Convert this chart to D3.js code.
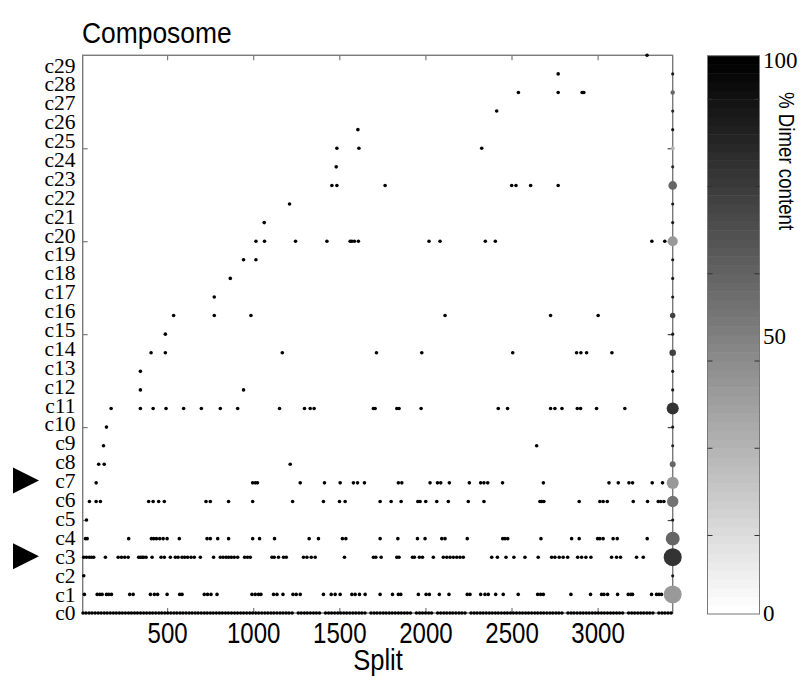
<!DOCTYPE html>
<html><head><meta charset="utf-8">
<script src="https://cdn.jsdelivr.net/npm/d3@7"></script>
<style>body{margin:0;background:#fff}svg{display:block}</style>
</head><body><div id="chart"></div>
<script>
// ---------- DATA ----------
const categories = ["c0","c1","c2","c3","c4","c5","c6","c7","c8","c9","c10","c11","c12","c13","c14","c15","c16","c17","c18","c19","c20","c21","c22","c23","c24","c25","c26","c27","c28","c29"];
const xTicks = [500, 1000, 1500, 2000, 2500, 3000];
const yTicks = [5, 10, 15, 20, 25];
const colorbarLabels = [0, 50, 100];
const arrowRows = ["c3", "c7"];

const c0Split = [12,29,47,64,82,100,117,135,152,170,188,205,223,240,258,276,293,311,328,346,364,381,399,416,434,452,469,487,504,522,540,557,575,592,610,628,645,663,680,698,716,733,751,768,786,804,821,839,856,874,892,909,927,944,962,980,997,1015,1032,1050,1068,1085,1103,1120,1138,1156,1173,1191,1208,1226,1262,1279,1297,1314,1332,1350,1367,1385,1420,1438,1455,1473,1491,1508,1526,1543,1561,1579,1596,1614,1631,1649,1684,1702,1719,1737,1755,1772,1790,1807,1825,1843,1860,1878,1895,1913,1948,1966,1983,2001,2019,2036,2071,2089,2107,2124,2142,2159,2177,2195,2212,2230,2265,2283,2300,2318,2335,2353,2371,2388,2406,2423,2441,2459,2476,2494,2511,2529,2547,2564,2582,2599,2617,2635,2652,2670,2687,2705,2723,2740,2758,2775,2793,2828,2846,2863,2881,2899,2916,2934,2951,2969,2987,3004,3022,3039,3057,3075,3092,3110,3127,3145,3180,3198,3215,3233,3251,3268,3286,3303,3321,3356,3374,3391,3409,3427];
const c1Split = [20,94,109,123,148,161,177,283,303,403,426,445,500,573,587,716,735,755,790,993,1012,1031,1045,1118,1138,1173,1231,1250,1273,1408,1453,1476,1505,1573,1592,1617,1650,1737,1809,1843,1857,1959,2004,2023,2081,2137,2243,2259,2321,2346,2365,2408,2452,2539,2652,2669,2685,2845,2959,3023,3037,3058,3116,3178,3193,3203,3313,3342,3356,3371];
const c2Split = [16];
const c3Split = [16,32,48,61,74,142,216,235,254,274,335,345,355,364,378,413,465,484,519,548,564,587,602,619,639,658,693,770,809,825,842,857,873,890,910,950,967,983,1109,1122,1147,1176,1192,1292,1312,1337,1360,1530,1698,1712,1743,1834,1847,1925,1936,1965,1983,2046,2104,2124,2143,2162,2182,2201,2220,2385,2418,2468,2514,2578,2655,2733,2752,2777,2800,2826,2884,2907,2932,2961,3081,3110,3133,3226,3265];
const c4Split = [26,36,277,409,422,438,457,477,500,571,732,751,794,857,997,1037,1124,1325,1379,1518,1538,1737,1840,1954,1998,2095,2114,2243,2449,2462,2478,2671,2849,2893,3000,3013,3032,3090,3114,3288];
const c5Split = [32];
const c6Split = [49,88,113,393,419,451,484,726,751,857,997,1229,1408,1501,1534,1737,1801,1859,1956,1969,2002,2066,2133,2249,2340,2665,2675,2688,2893,3013,3032,3056,3207,3290,3352,3367,3385];
const c7Split = [88,997,1012,1025,1273,1414,1505,1582,1606,1646,1843,1863,2027,2070,2089,2139,2255,2321,2340,2362,2448,2685,3066,3120,3182,3203,3317,3377];
const c8Split = [103,135,1215];
const c9Split = [131,2646];
const c10Split = [148];
const c11Split = [175,345,419,494,596,699,809,910,1153,1298,1331,1354,1698,1708,1834,1847,1975,2423,2477,2727,2752,2793,2882,2901,2994,3158];
const c12Split = [345,944];
const c13Split = [345];
const c14Split = [407,490,1169,1716,1979,2507,2878,2903,2936,3083];
const c15Split = [490];
const c16Split = [538,774,987,2114,2727,3003];
const c17Split = [774];
const c18Split = [867];
const c19Split = [944,1016];
const c20Split = [1016,1066,1246,1428,1563,1573,1588,1611,2021,2085,2348,2406,3315,3390];
const c21Split = [1064];
const c22Split = [1211];
const c23Split = [1457,1486,1766,2501,2526,2611,2771];
const c24Split = [1482];
const c25Split = [1486,1614,2327];
const c26Split = [1608];
const c27Split = [2414];
const c28Split = [2540,2771,2910,2920];
const c29Split = [2771];
const c30Split = [3287];

// summary column at the right edge (per category c0..c29)
const abundance = [0,20,0.6,20,12,0.6,8,9,2.2,0.6,0.6,9,0.6,0.6,2.7,0.6,1.8,0.6,0.6,0.6,6.2,0.6,0.6,4.6,0.6,1,0.6,0.6,1.2,0.6];
const dimerPct  = [90,40,90,80,60,90,55,40,60,85,90,80,90,90,75,90,75,90,90,90,40,90,90,60,85,30,90,85,60,90];

const rowSplits = [c0Split,c1Split,c2Split,c3Split,c4Split,c5Split,c6Split,c7Split,c8Split,c9Split,c10Split,c11Split,c12Split,c13Split,c14Split,c15Split,c16Split,c17Split,c18Split,c19Split,c20Split,c21Split,c22Split,c23Split,c24Split,c25Split,c26Split,c27Split,c28Split,c29Split,c30Split];

// ---------- CHART ----------
const W = 808, H = 684;
const svg = d3.select("#chart").append("svg").attr("width", W).attr("height", H);
const SANS = "'Liberation Sans', Arial, sans-serif";
const SERIF = "'Liberation Serif', 'Times New Roman', serif";

const x = d3.scaleLinear().domain([10, 3436]).range([82.7, 672.7]);
const y = d3.scaleLinear().domain([0, 30]).range([613, 55.3]);
const yLab = d3.scaleLinear().domain([0, 29]).range([613.3, 65.5]);
const r = d3.scaleSqrt().domain([0, 20]).range([0, 9]);
const gray = p => { const v = Math.round(255 * (1 - p / 100)); return `rgb(${v},${v},${v})`; };

const axisColor = "#7a7a7a";

// title
svg.append("text").attr("x", 82).attr("y", 43)
  .attr("font-family", SANS).attr("font-size", 30)
  .attr("transform", "translate(82,0) scale(0.88,1) translate(-82,0)")
  .text("Composome");

// frame
svg.append("rect").attr("x", x.range()[0]).attr("y", y.range()[1])
  .attr("width", x.range()[1] - x.range()[0]).attr("height", y.range()[0] - y.range()[1])
  .attr("fill", "none").attr("stroke", axisColor).attr("stroke-width", 1.4);

// x axis bottom (inward ticks)
const gxb = svg.append("g").attr("transform", `translate(0,${y(0)})`)
  .call(d3.axisBottom(x).tickValues(xTicks).tickFormat(d3.format("d")).tickSizeInner(-5).tickSizeOuter(0).tickPadding(9));
gxb.select(".domain").remove();
gxb.selectAll("line").attr("stroke", axisColor).attr("stroke-width", 1.2);
gxb.selectAll("text").attr("font-family", SANS).attr("font-size", 29).attr("fill", "#000")
  .attr("transform", "scale(0.83,1)");
// x axis top
const gxt = svg.append("g").attr("transform", `translate(0,${y(30)})`)
  .call(d3.axisTop(x).tickValues(xTicks).tickSizeInner(-5).tickSizeOuter(0).tickFormat(""));
gxt.select(".domain").remove();
gxt.selectAll("line").attr("stroke", axisColor).attr("stroke-width", 1.2);

// y axis ticks left and right
const gyl = svg.append("g").attr("transform", `translate(${x.range()[0]},0)`)
  .call(d3.axisLeft(y).tickValues(yTicks).tickSizeInner(-5).tickSizeOuter(0).tickFormat(""));
gyl.select(".domain").remove();
gyl.selectAll("line").attr("stroke", axisColor).attr("stroke-width", 1.2);
const gyr = svg.append("g").attr("transform", `translate(${x.range()[1]},0)`)
  .call(d3.axisRight(y).tickValues(yTicks).tickSizeInner(-5).tickSizeOuter(0).tickFormat(""));
gyr.select(".domain").remove();
gyr.selectAll("line").attr("stroke", "#444").attr("stroke-width", 1.2);

// y category labels (one multi-line text block, as in the reference)
svg.append("text")
  .attr("text-anchor", "end").attr("font-family", SERIF).attr("font-size", 21.5)
  .selectAll("tspan").data(categories).join("tspan")
  .attr("x", 75.5).attr("y", (d, i) => yLab(i)).attr("dy", "0.33em")
  .text(d => d);

// x label
svg.append("text").attr("x", 378).attr("y", 670).attr("text-anchor", "middle")
  .attr("font-family", SANS).attr("font-size", 29)
  .attr("transform", "translate(378,0) scale(0.88,1) translate(-378,0)")
  .text("Split");

// points
const pts = [];
rowSplits.forEach((arr, row) => arr.forEach(v => pts.push({ row, v })));
svg.append("g").selectAll("circle").data(pts).join("circle")
  .attr("cx", d => x(d.v)).attr("cy", d => y(d.row)).attr("r", 1.8).attr("fill", "#000");

// summary column
const summ = categories.map((c, i) => ({ i, a: abundance[i], p: dimerPct[i] })).filter(d => d.a > 0);
svg.append("g").selectAll("circle").data(summ).join("circle")
  .attr("cx", x.range()[1]).attr("cy", d => y(d.i)).attr("r", d => r(d.a))
  .attr("fill", d => gray(d.p));

// arrows
svg.append("g").selectAll("path").data(arrowRows).join("path")
  .attr("d", d => { const cy = yLab(categories.indexOf(d)) - 0.5; return `M13,${cy - 13}L39,${cy}L13,${cy + 13}Z`; })
  .attr("fill", "#000");

// colorbar
const cbX0 = 707.5, cbX1 = 759.5;
const cb = d3.scaleLinear().domain([1, 65]).range([614, 55.7]);
const bands = d3.range(1, 65);
svg.append("g").selectAll("rect").data(bands).join("rect")
  .attr("x", cbX0).attr("width", cbX1 - cbX0)
  .attr("y", d => cb(d + 1)).attr("height", d => cb(d) - cb(d + 1) + 0.5)
  .attr("fill", d => { const v = Math.round(255 * (64 - d) / 63); return `rgb(${v},${v},${v})`; });
svg.append("rect").attr("x", cbX0).attr("y", cb(65)).attr("width", cbX1 - cbX0).attr("height", cb(1) - cb(65))
  .attr("fill", "none").attr("stroke", "#777").attr("stroke-width", 1);
const cbTicks = [10, 20, 30, 40, 50, 60];
svg.append("g").selectAll("line").data(cbTicks.flatMap(t => [[t, cbX0, cbX0 + 5], [t, cbX1, cbX1 - 5]])).join("line")
  .attr("x1", d => d[1]).attr("x2", d => d[2]).attr("y1", d => cb(d[0])).attr("y2", d => cb(d[0]))
  .attr("stroke", "#333").attr("stroke-width", 1);
const pctY = d3.scaleLinear().domain([0, 100]).range([613.5, 60]);
svg.append("g").selectAll("text").data(colorbarLabels).join("text")
  .attr("x", 763).attr("y", d => pctY(d)).attr("dy", "0.33em")
  .attr("font-family", SERIF).attr("font-size", 23).text(d => d);
svg.append("text").attr("transform", "translate(779,92) rotate(90) scale(0.85,1)")
  .attr("font-family", SANS).attr("font-size", 22).text("% Dimer content");
</script></body></html>
